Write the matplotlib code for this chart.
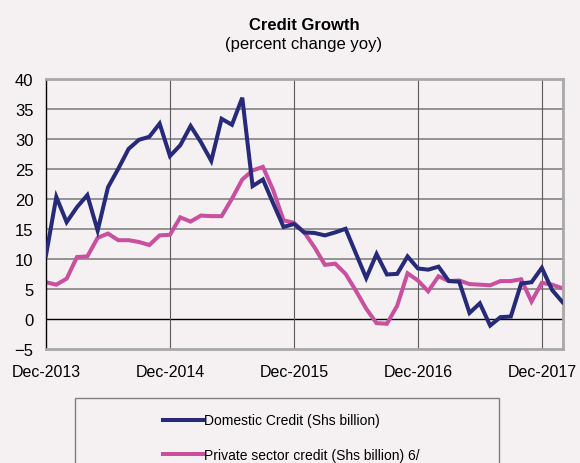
import matplotlib
matplotlib.use("Agg")
import matplotlib.pyplot as plt
from matplotlib.patches import Rectangle

# monthly, Dec-2013 .. Feb-2018
domestic = [10.6, 20.3, 16.1, 18.6, 20.6, 14.7, 21.9, 25.0, 28.3, 29.8,
            30.3, 32.5, 27.1, 28.9, 32.1, 29.4, 26.3, 33.3, 32.3, 36.8,
            22.1, 23.2, 19.2, 15.3, 15.8, 14.4, 14.3, 13.9, 14.4, 15.0,
            10.9, 6.8, 10.8, 7.4, 7.5, 10.4, 8.4, 8.2, 8.7, 6.3,
            6.2, 1.0, 2.6, -1.1, 0.3, 0.4, 5.9, 6.1, 8.5, 4.8, 2.8]
private = [6.1, 5.7, 6.7, 10.3, 10.4, 13.5, 14.2, 13.1, 13.1, 12.8,
           12.3, 13.9, 14.0, 16.9, 16.2, 17.2, 17.1, 17.1, 20.0, 23.2,
           24.7, 25.3, 21.4, 16.4, 16.0, 14.4, 11.9, 9.0, 9.2, 7.5,
           4.7, 1.7, -0.7, -0.8, 2.2, 7.6, 6.4, 4.6, 7.1, 6.3,
           6.4, 5.8, 5.7, 5.6, 6.3, 6.3, 6.6, 2.9, 6.0, 5.7, 5.1]
tick_pos = [0, 12, 24, 36, 48]
tick_labels = ["Dec-2013", "Dec-2014", "Dec-2015", "Dec-2016", "Dec-2017"]
y_ticks = list(range(-5, 45, 5))

bg = "#f5f1f3"
navy = "#262a78"
pink = "#c8509e"

plt.rcParams["font.family"] = ["Liberation Sans", "DejaVu Sans"]

fig = plt.figure(figsize=(5.8, 4.64), dpi=100, facecolor=bg)
ax = fig.add_axes([46 / 580, 1 - 350 / 464, (563 - 46) / 580, (350 - 79.5) / 464])
ax.set_facecolor(bg)

x = list(range(len(domestic)))
for yv in y_ticks[1:-1]:
    ax.axhline(yv, color="#000000" if yv == 0 else "#8c8c8c",
               lw=1.0 if yv == 0 else 1.3, zorder=1)
for xv in tick_pos[1:]:
    ax.axvline(xv, color="#5a5a5a", lw=0.8, zorder=1)

l1, = ax.plot(x, domestic, color=navy, lw=2.9, zorder=3,
              solid_joinstyle="miter", label="Domestic Credit (Shs billion)")
l2, = ax.plot(x, private, color=pink, lw=2.9, zorder=2,
              solid_joinstyle="miter", label="Private sector credit (Shs billion) 6/")

ax.set_xlim(0, 50.05)
ax.set_ylim(-5, 40)
ax.set_yticks(y_ticks)
ax.set_xticks(tick_pos)
ax.set_xticklabels(tick_labels)
ax.tick_params(axis="both", length=0)
ax.tick_params(axis="y", pad=9, labelsize=12)
ax.tick_params(axis="x", pad=11, labelsize=11.5)

for s in ["top", "right", "bottom"]:
    ax.spines[s].set_color("#a8a8a8")
    ax.spines[s].set_linewidth(2)
ax.spines["left"].set_color("#000000")
ax.spines["left"].set_linewidth(1)

fig.text(304 / 580, 1 - 26 / 464, "Credit Growth", ha="center", va="center",
         fontsize=12, fontweight="bold")
fig.text(304 / 580, 1 - 45 / 464, "(percent change yoy)", ha="center",
         va="center", fontsize=12)

fig.patches.append(Rectangle((75 / 580, -0.1), (499 - 75) / 580, 0.1 + 1 - 399 / 464,
                             transform=fig.transFigure, facecolor="none",
                             edgecolor="#808080", lw=1))
fig.legend(handles=[l1, l2], loc="upper left",
           bbox_to_anchor=(150 / 580, 1 - 402 / 464), frameon=False,
           fontsize=10, handlelength=2.9, handletextpad=0.1, labelspacing=1.45)

fig.savefig("out.png", dpi=100, facecolor=bg)
